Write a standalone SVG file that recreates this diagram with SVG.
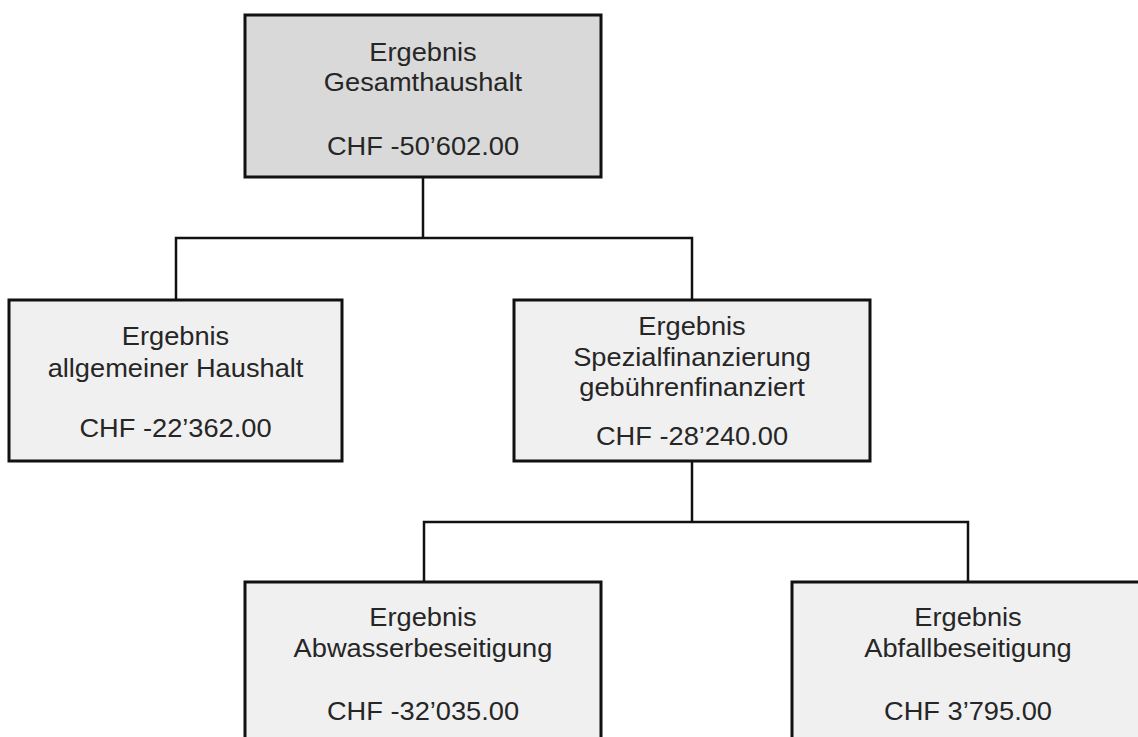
<svg xmlns="http://www.w3.org/2000/svg" width="1138" height="737" viewBox="0 0 1138 737">
<style>
.box{stroke:#111;stroke-width:3;}
.top{fill:#d9d9d9;}
.sub{fill:#f0f0f0;}
.conn{fill:none;stroke:#111;stroke-width:2.5;}
text{font-family:"Liberation Sans",Arial,sans-serif;font-size:25px;fill:#262626;text-anchor:middle;}
</style>
<rect width="1138" height="737" fill="#ffffff"/>
<g id="connectors">
<path class="conn" d="M423 177 V238 M176 300 V238 H692 V300"/>
<path class="conn" d="M692 461 V522 M424 582 V522 H968 V582"/>
</g>
<g id="n-gesamt">
<rect class="box top" x="245" y="15" width="356" height="162"/>
<g transform="translate(423,0) scale(1.09,1)">
<text x="0" y="61">Ergebnis</text>
<text x="0" y="91">Gesamthaushalt</text>
<text x="0" y="155">CHF -50’602.00</text>
</g>
</g>
<g id="n-allgemein">
<rect class="box sub" x="9" y="300" width="333" height="161"/>
<g transform="translate(175.5,0) scale(1.09,1)">
<text x="0" y="345">Ergebnis</text>
<text x="0" y="377">allgemeiner Haushalt</text>
<text x="0" y="437">CHF -22’362.00</text>
</g>
</g>
<g id="n-spezial">
<rect class="box sub" x="514" y="300" width="356" height="161"/>
<g transform="translate(692,0) scale(1.09,1)">
<text x="0" y="335">Ergebnis</text>
<text x="0" y="366">Spezialfinanzierung</text>
<text x="0" y="396">gebührenfinanziert</text>
<text x="0" y="445">CHF -28’240.00</text>
</g>
</g>
<g id="n-abwasser">
<rect class="box sub" x="245" y="582" width="356" height="180"/>
<g transform="translate(423,0) scale(1.09,1)">
<text x="0" y="626">Ergebnis</text>
<text x="0" y="657">Abwasserbeseitigung</text>
<text x="0" y="720">CHF -32’035.00</text>
</g>
</g>
<g id="n-abfall">
<rect class="box sub" x="792" y="582" width="354" height="180"/>
<g transform="translate(968,0) scale(1.09,1)">
<text x="0" y="626">Ergebnis</text>
<text x="0" y="657">Abfallbeseitigung</text>
<text x="0" y="720">CHF 3’795.00</text>
</g>
</g>
</svg>
